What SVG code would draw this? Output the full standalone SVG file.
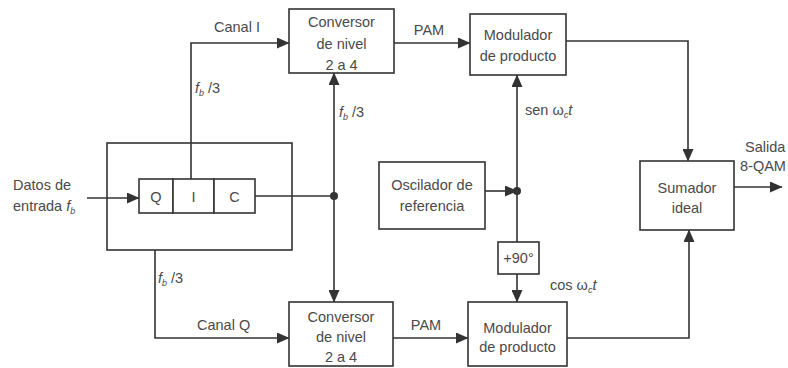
<svg xmlns="http://www.w3.org/2000/svg" width="788" height="368" viewBox="0 0 788 368">
<defs>
<style>
.box{fill:#fff;stroke:#333;stroke-width:1.6}
.ln{fill:none;stroke:#333;stroke-width:1.6}
text{font-family:"Liberation Sans",Arial,sans-serif;font-size:14.5px;fill:#4a4a4a}
.c{text-anchor:middle}
.i{font-style:italic}
.s{font-size:9px;font-style:italic}
</style>
<marker id="ah" markerUnits="userSpaceOnUse" markerWidth="13" markerHeight="11" refX="12" refY="5.5" orient="auto" viewBox="0 0 13 11">
<path d="M0,0 L12.5,5.5 L0,11 z" fill="#333"/>
</marker>
</defs>
<rect width="788" height="368" fill="#fff"/>

<g id="connectors">
<path class="ln" d="M87,198 H139" marker-end="url(#ah)"/>
<path class="ln" d="M191,179 V43 H289" marker-end="url(#ah)"/>
<path class="ln" d="M255,196 H334"/>
<path class="ln" d="M334,196 V73" marker-end="url(#ah)"/>
<path class="ln" d="M334,196 V302" marker-end="url(#ah)"/>
<path class="ln" d="M155,250 V338 H289" marker-end="url(#ah)"/>
<path class="ln" d="M394,43 H470" marker-end="url(#ah)"/>
<path class="ln" d="M393,338 H468" marker-end="url(#ah)"/>
<path class="ln" d="M566,41 H688 V161" marker-end="url(#ah)"/>
<path class="ln" d="M567,338 H689 V230" marker-end="url(#ah)"/>
<path class="ln" d="M485,191 H517" marker-end="url(#ah)"/>
<path class="ln" d="M517,191 V75" marker-end="url(#ah)"/>
<path class="ln" d="M517,191 V242"/>
<path class="ln" d="M517,274 V302" marker-end="url(#ah)"/>
<path class="ln" d="M734,187 H782" marker-end="url(#ah)"/>
<circle cx="334" cy="196" r="4" fill="#333"/>
<circle cx="517" cy="191" r="4" fill="#333"/>
</g>

<g id="input-label">
<text x="13" y="190">Datos de</text>
<text x="13" y="211">entrada <tspan class="i">f</tspan><tspan class="s" dy="3">b</tspan></text>
</g>

<g id="divisor">
<rect class="box" x="107" y="143" width="185" height="107" fill="none" style="fill:none"/>
</g>

<g id="registro">
<rect class="box" x="139" y="179" width="34" height="34"/>
<rect class="box" x="173" y="179" width="41" height="34"/>
<rect class="box" x="214" y="179" width="41" height="34"/>
<text class="c" x="156" y="202">Q</text>
<text class="c" x="193.5" y="202">I</text>
<text class="c" x="234.5" y="202">C</text>
</g>

<g id="labels">
<text x="214" y="32">Canal I</text>
<text x="195" y="93"><tspan class="i">f</tspan><tspan class="s" dy="3">b</tspan><tspan dy="-3"> /3</tspan></text>
<text x="339" y="117"><tspan class="i">f</tspan><tspan class="s" dy="3">b</tspan><tspan dy="-3"> /3</tspan></text>
<text x="158" y="283"><tspan class="i">f</tspan><tspan class="s" dy="3">b</tspan><tspan dy="-3"> /3</tspan></text>
<text x="197" y="330">Canal Q</text>
<text class="c" x="429" y="35">PAM</text>
<text class="c" x="426" y="330">PAM</text>
<text x="525" y="115">sen ω<tspan class="s" dy="3">c</tspan><tspan class="i" dy="-3">t</tspan></text>
<text x="550" y="290">cos ω<tspan class="s" dy="3">c</tspan><tspan class="i" dy="-3">t</tspan></text>
<text x="745" y="152">Salida</text>
<text x="740" y="171">8-QAM</text>
</g>

<g id="conversor-i">
<rect class="box" x="289" y="9" width="105" height="64"/>
<text class="c" x="341.5" y="27">Conversor</text>
<text class="c" x="341.5" y="49">de nivel</text>
<text class="c" x="341.5" y="70">2 a 4</text>
</g>

<g id="conversor-q">
<rect class="box" x="289" y="302" width="104" height="64"/>
<text class="c" x="341" y="322">Conversor</text>
<text class="c" x="341" y="342">de nivel</text>
<text class="c" x="341" y="362">2 a 4</text>
</g>

<g id="modulador-i">
<rect class="box" x="470" y="14" width="96" height="61"/>
<text class="c" x="518" y="40">Modulador</text>
<text class="c" x="518" y="61">de producto</text>
</g>

<g id="modulador-q">
<rect class="box" x="468" y="302" width="99" height="64"/>
<text class="c" x="517.5" y="333">Modulador</text>
<text class="c" x="517.5" y="352">de producto</text>
</g>

<g id="oscilador">
<rect class="box" x="379" y="162" width="106" height="67"/>
<text class="c" x="432" y="190">Oscilador de</text>
<text class="c" x="432" y="211">referencia</text>
</g>

<g id="desfasador">
<rect class="box" x="498" y="242" width="41" height="32"/>
<text class="c" x="518.5" y="263">+90°</text>
</g>

<g id="sumador">
<rect class="box" x="640" y="161" width="94" height="69"/>
<text class="c" x="687" y="193">Sumador</text>
<text class="c" x="687" y="213">ideal</text>
</g>
</svg>
